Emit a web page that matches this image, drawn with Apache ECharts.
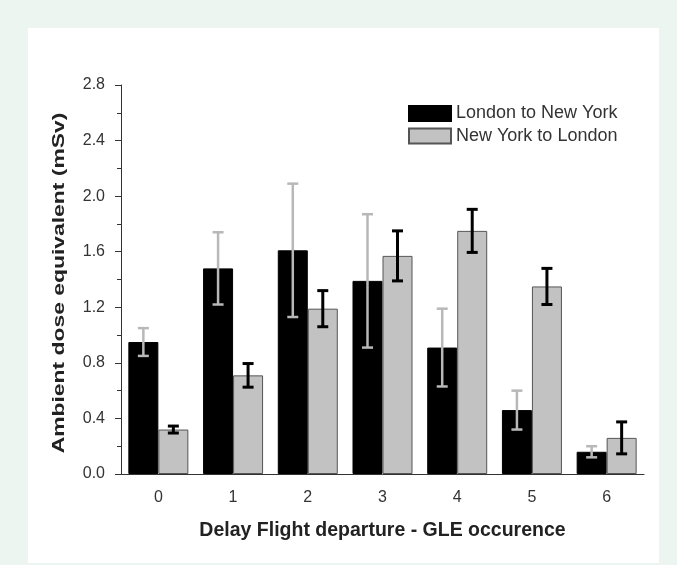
<!DOCTYPE html>
<html><head><meta charset="utf-8">
<script src="https://cdn.jsdelivr.net/npm/echarts@6/dist/echarts.min.js"></script>
<style>html,body{margin:0;padding:0;background:#edf5f1}#c{width:677px;height:565px}</style>
</head><body><div id="c"></div>
<script>
const categories = ['0','1','2','3','4','5','6'];
const londonNY = [0.95, 1.48, 1.61, 1.39, 0.91, 0.46, 0.16];
const londonNYErr = [0.10, 0.26, 0.48, 0.48, 0.28, 0.14, 0.04];
const nyLondon = [0.32, 0.71, 1.19, 1.57, 1.75, 1.35, 0.26];
const nyLondonErr = [0.025, 0.085, 0.13, 0.18, 0.155, 0.13, 0.115];
const yTicks = ['0.0','0.4','0.8','1.2','1.6','2.0','2.4','2.8'];
const yTitle = 'Ambient dose equivalent (mSv)';
const xTitle = 'Delay Flight departure - GLE occurence';

const chart = echarts.init(document.getElementById('c'));
const font = '"Liberation Sans", Arial, sans-serif';

function errRender(offset, color, width) {
  return function (params, api) {
    const i = api.value(0), v = api.value(1), e = api.value(2);
    const hi = api.coord([i, v + e]);
    const lo = api.coord([i, v - e]);
    const x = hi[0] + offset;
    const cw = 5.5;
    const st = { stroke: color, lineWidth: width };
    return { type: 'group', children: [
      { type: 'line', shape: { x1: x, y1: hi[1], x2: x, y2: lo[1] }, style: st },
      { type: 'line', shape: { x1: x - cw, y1: hi[1], x2: x + cw, y2: hi[1] }, style: st },
      { type: 'line', shape: { x1: x - cw, y1: lo[1], x2: x + cw, y2: lo[1] }, style: st }
    ]};
  };
}

chart.setOption({
  backgroundColor: '#edf5f1',
  animation: false,
  graphic: [
    { type: 'rect', shape: { x: 28, y: 28, width: 631, height: 535 }, style: { fill: '#ffffff' }, z: -10 },
    { type: 'text', x: 60, y: 283, rotation: Math.PI / 2, scaleX: 1.43,
      style: { text: yTitle, font: 'bold 16px "Liberation Sans", Arial, sans-serif', fill: '#222',
        align: 'center', verticalAlign: 'middle' } }
  ],
  grid: { left: 121, right: 33, top: 85, bottom: 91 },
  legend: {
    orient: 'vertical', left: 403, top: 99.5, itemGap: 4.5, itemWidth: 42, itemHeight: 15, icon: 'rect',
    textStyle: { fontFamily: font, fontSize: 18, color: '#333' },
    data: ['London to New York', 'New York to London']
  },
  xAxis: [{
    type: 'category', data: categories, boundaryGap: true,
    name: xTitle, nameLocation: 'middle', nameGap: 47,
    nameTextStyle: { fontFamily: font, fontSize: 19.5, fontWeight: 'bold', color: '#222' },
    axisLine: { lineStyle: { color: '#333', width: 1 } },
    axisTick: { alignWithLabel: true, inside: false, length: 5, lineStyle: { color: '#333' } },
    axisLabel: { fontFamily: font, fontSize: 16, color: '#333', margin: 16 }
  }, {
    type: 'category', data: categories, boundaryGap: true, position: 'bottom', offset: 0,
    axisLine: { show: false }, axisLabel: { show: false },
    axisTick: { inside: true, length: 5, lineStyle: { color: '#333' } }
  }],
  yAxis: {
    type: 'value', min: 0, max: 2.8, interval: 0.4,
    axisLine: { show: true, lineStyle: { color: '#333', width: 1 } },
    axisTick: { show: true, length: 6, lineStyle: { color: '#333' } },
    minorTick: { show: true, splitNumber: 2, length: 4, lineStyle: { color: '#333' } },
    splitLine: { show: false },
    axisLabel: { fontFamily: font, fontSize: 16, color: '#333', margin: 16,
      formatter: function (v) { return yTicks[Math.round(v / 0.4)]; } }
  },
  series: [
    { name: 'London to New York', type: 'bar', data: londonNY, barWidth: 30, barGap: '0%',
      itemStyle: { color: '#000000', borderColor: '#000000', borderWidth: 1 } },
    { name: 'New York to London', type: 'bar', data: nyLondon, barWidth: 30, barGap: '0%',
      itemStyle: { color: '#c2c2c2', borderColor: '#555555', borderWidth: 1 } },
    { type: 'custom', z: 10, renderItem: errRender(-15, '#b8b8b8', 2.5),
      data: londonNY.map((v, i) => [i, v, londonNYErr[i]]), encode: { x: 0, y: 1 } },
    { type: 'custom', z: 10, renderItem: errRender(15, '#000000', 3),
      data: nyLondon.map((v, i) => [i, v, nyLondonErr[i]]), encode: { x: 0, y: 1 } }
  ]
});
</script></body></html>
